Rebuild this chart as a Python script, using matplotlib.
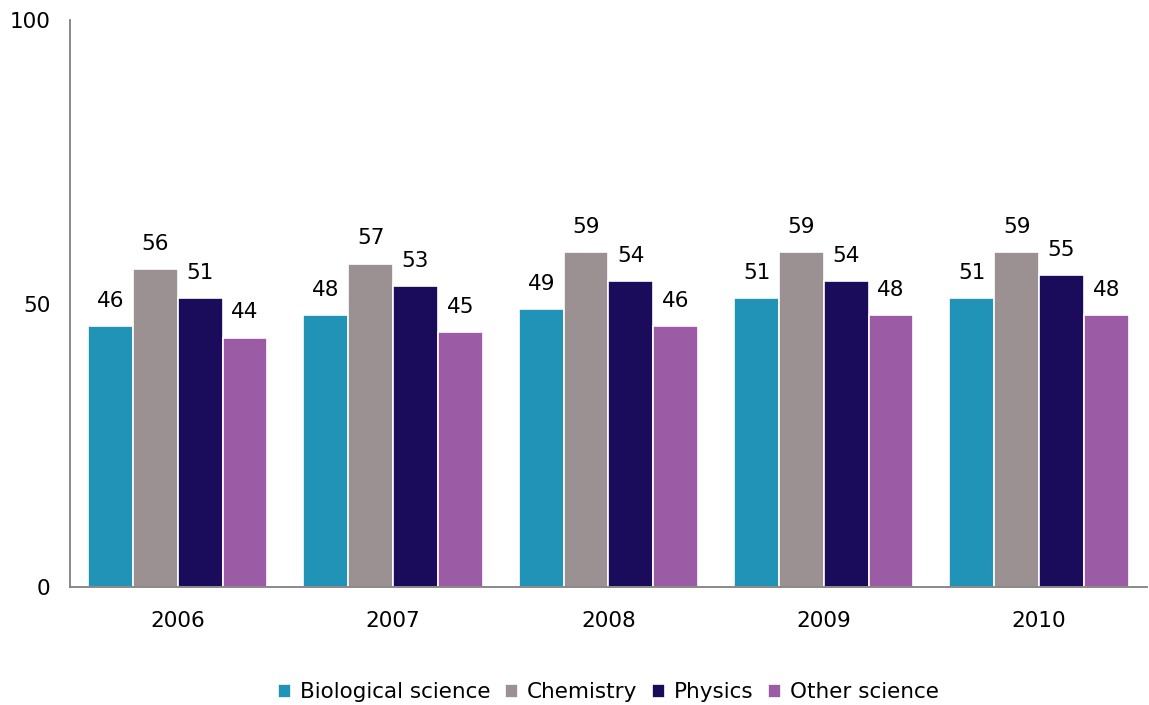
import matplotlib
matplotlib.use('Agg')
import matplotlib.pyplot as plt
import numpy as np

years = ['2006', '2007', '2008', '2009', '2010']
series = ['Biological science', 'Chemistry', 'Physics', 'Other science']
biological = [46, 48, 49, 51, 51]
chemistry = [56, 57, 59, 59, 59]
physics = [51, 53, 54, 54, 55]
other = [44, 45, 46, 48, 48]
colors = ['#2093B6', '#9B9192', '#1A0B5B', '#9B5BA5']

plt.rcParams['font.family'] = ['DejaVu Sans']
fs = 15.5

fig = plt.figure(figsize=(11.49, 7.05), dpi=100)
ax = fig.add_axes([0.061, 0.167, 0.937, 0.805])

x = np.arange(len(years))
w = 0.208
values = [biological, chemistry, physics, other]
for i, (name, vals) in enumerate(zip(series, values)):
    pos = x + (i - 1.5) * w
    bars = ax.bar(pos, vals, w, color=colors[i], edgecolor='white', linewidth=1.2,
                  label=name, zorder=2)
    for b, v in zip(bars, vals):
        ax.annotate(str(v), (b.get_x() + b.get_width() / 2, v), xytext=(0, 11),
                    textcoords='offset points', ha='center', va='bottom',
                    fontsize=fs, color='black')

ax.set_xlim(-0.5, len(years) - 0.5)
ax.set_ylim(0, 100)
ax.set_yticks([0, 50, 100])
ax.set_xticks(x)
ax.set_xticklabels(years)
ax.tick_params(axis='both', length=0, labelsize=fs)
ax.tick_params(axis='y', pad=14)
ax.tick_params(axis='x', pad=17)
for s in ['top', 'right']:
    ax.spines[s].set_visible(False)
for s in ['left', 'bottom']:
    ax.spines[s].set_color('#808080')
    ax.spines[s].set_linewidth(1.3)

ax.legend(loc='center', bbox_to_anchor=(0.5, -0.185), ncol=4, frameon=False,
          fontsize=fs, handlelength=0.6, handleheight=0.6, handletextpad=0.4,
          columnspacing=0.7)

plt.savefig('out.png', dpi=100)
